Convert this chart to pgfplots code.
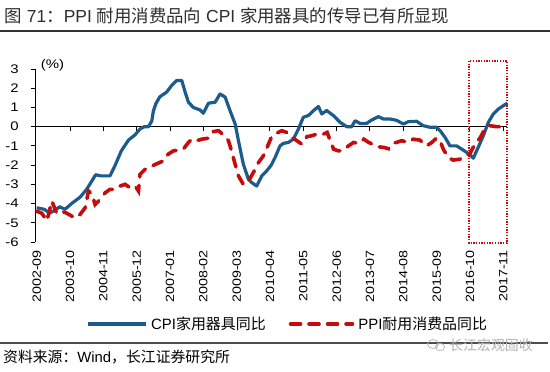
\documentclass[border=0pt]{standalone}
\usepackage{pgfplots}
\pgfplotsset{compat=1.18}
\usepackage{fontspec}
\setmainfont{Liberation Sans}
\newfontfamily\cjk{Noto Sans CJK SC}
\newfontfamily\tickfont[FakeStretch=1.2]{Liberation Sans}
\definecolor{cpiblue}{RGB}{28,92,138}
\definecolor{ppired}{RGB}{196,12,12}
\definecolor{titlegray}{RGB}{45,45,50}
\begin{document}
\begin{tikzpicture}
\useasboundingbox (0bp,0bp) rectangle (550bp,372bp);
% title
\node[anchor=base west, inner sep=0pt, text=titlegray, font=\fontsize{17.5}{17.5}\selectfont] at (4.5bp,349bp)
  {{\cjk 图} 71{\cjk ：}PPI {\cjk 耐用消费品向} CPI {\cjk 家用器具的传导已有所显现}};
\draw[line width=1.3bp, black!80] (0bp,341bp) -- (550bp,341bp);
% footer
\draw[line width=1.2bp, black!70] (0bp,29bp) -- (548bp,29bp);
\node[anchor=base west, inner sep=0pt, font=\fontsize{14.9}{14.9}\selectfont] at (3bp,10bp)
  {{\cjk 资料来源：}Wind{\cjk ，长江证券研究所}};
\node[anchor=center, inner sep=0pt, text=black!30, font=\cjk\fontsize{14}{14}\selectfont] at (491bp,27bp) {长江宏观固收};
\draw[black!30, line width=0.7bp] (433bp,28bp) ellipse (5.5bp and 4.5bp);
\draw[black!30, line width=0.7bp] (440bp,25bp) ellipse (4.5bp and 3.8bp);
\begin{axis}[
  at={(35.4bp,130bp)}, anchor=south west,
  scale only axis, width=472bp, height=173bp,
  xmin=-0.5, xmax=183.6, ymin=-6, ymax=3,
  clip=false,
  axis line style={draw=none},
  major tick length=0pt,
  xtick={0,13,26,39,52,65,78,91,104,117,130,143,156,169,182},
  xticklabels={2002-09,2003-10,2004-11,2005-12,2007-01,2008-02,2009-03,2010-04,2011-05,2012-06,2013-07,2014-08,2015-09,2016-10,2017-11},
  ytick={-6,-5,-4,-3,-2,-1,0,1,2,3},
  yticklabels={-6,-5,-4,-3,-2,-1,0,1,2,3},
  xticklabel style={rotate=90, anchor=east, inner xsep=8bp, inner ysep=0pt, font=\tickfont\fontsize{12}{12}\selectfont},
  yticklabel style={anchor=east, inner xsep=16.5bp, inner ysep=0pt, font=\tickfont\fontsize{12.5}{12.5}\selectfont},
  legend style={at={(0.532,-0.474)}, anchor=center, draw=none, fill=none,
    legend columns=2, inner sep=0pt, outer sep=0pt,
    font=\fontsize{15}{15}\selectfont,
    nodes={inner sep=0pt},
    /tikz/column 1/.style={column sep=4bp},
    /tikz/column 2/.style={column sep=23bp},
    /tikz/column 3/.style={column sep=4bp}},
]
% axis lines and ticks
\draw[black, line width=1bp] (axis cs:-0.5,-6) -- (axis cs:-0.5,3);
\pgfplotsinvokeforeach{-6,-5,-4,-3,-2,-1,0,1,2,3}{\draw[black, line width=1bp] (axis cs:-0.5,#1) -- ++(-4bp,0bp);}
\draw[black, line width=1bp] (axis cs:-0.5,0) -- (axis cs:183.6,0);
\pgfplotsinvokeforeach{13,26,39,52,65,78,91,104,117,130,143,156,169,182}{\draw[black, line width=1bp] (axis cs:#1,0) -- ++(0bp,-4bp);}

\addplot[cpiblue, line width=3.2bp, line join=round,
  legend image code/.code={\draw[cpiblue, line width=3.2bp] (0bp,0bp) -- (58bp,0bp);}]
  coordinates {
(0,-4.22) (3,-4.3) (5,-4.5) (7,-4.35) (9,-4.17) (11,-4.3) (14,-3.96) (17,-3.66)
(19.5,-3.26) (21.5,-2.83) (23,-2.5) (25,-2.56) (28.6,-2.56) (30.5,-2.04) (33,-1.26)
(35.8,-0.7) (38.4,-0.42) (40.3,-0.12) (42,0) (43.6,0) (44.9,0.3) (45.5,0.8) (46.5,1.2)
(48,1.55) (50.7,1.8) (52.7,2.15) (54.6,2.4) (56.6,2.4) (57.9,1.8) (59.2,1.27) (61.1,1.0)
(63.7,0.87) (65,0.7) (67,1.22) (69.6,1.27) (71.5,1.7) (73.5,1.54) (75.4,0.84) (77.4,0.14)
(78.7,-0.73) (80.6,-1.95) (82.6,-2.74) (83.9,-2.91) (85.8,-3.09) (87.8,-2.56) (89.7,-2.3)
(91.5,-2.0) (93,-1.6) (94.9,-1.0) (96.2,-0.87) (98.2,-0.82) (100.1,-0.65) (102.1,-0.12)
(104,0.49) (106,0.58) (108,0.84) (109.9,1.05) (111.2,0.66) (113.1,0.84) (115.7,0.58)
(118.3,0.23) (120.9,0) (122.9,0) (124.2,0.31) (126.1,0.17) (128.7,0.17) (130.7,0.35)
(133.3,0.52) (135.2,0.4) (137.8,0.4) (140.4,0.33) (143,0.14) (145,0.26) (148.2,0.28)
(150.8,0.05) (153.4,-0.03) (156,-0.03) (157.3,-0.2) (159.3,-0.56) (161.2,-1.0) (163.8,-1.0)
(165.8,-1.17) (168.4,-1.4) (170.3,-1.64) (172.3,-1.05) (174.2,-0.47) (176.2,0.23)
(178.1,0.66) (180.1,0.92) (182.7,1.15) (183.6,1.22)
};
\addlegendentry{CPI{\cjk 家用器具同比}}

\addplot[ppired, line width=3.6bp, line cap=round, dash pattern=on 10bp off 8.5bp,
  legend image code/.code={\draw[ppired, line width=3.6bp, line cap=round, dash pattern=on 10bp off 8.5bp] (0bp,0bp) -- (62bp,0bp);}]
  coordinates {
(0,-4.4) (2,-4.5) (4,-4.9) (5.9,-3.87) (7.8,-4.5) (9.8,-4.4) (11.7,-4.5) (15,-4.75)
(16.9,-4.57) (18.9,-4.22) (20.2,-3.35) (21.5,-3.5) (22.8,-4.05) (24.7,-3.79) (26.7,-3.44)
(28.6,-3.26) (30.6,-3.26) (32.5,-3.09) (34.5,-3.0) (36.4,-3.18) (38.4,-3.09) (39.7,-3.35)
(40.3,-2.48) (42.3,-2.22) (44.2,-2.1) (46.5,-1.95) (49.4,-1.78) (51.3,-1.43) (53.3,-1.26)
(55.3,-1.22) (57.2,-1.17) (59.2,-0.82) (60.5,-0.65) (62.4,-0.73) (64.4,-0.65) (67,-0.6)
(68.9,-0.26) (70.9,-0.21) (72.8,-0.42) (74.8,-0.73) (76,-1.26) (77.4,-1.95) (78.7,-2.56)
(80.6,-3.0) (82.6,-2.83) (84.5,-2.39) (86.5,-1.87) (88.4,-1.52) (90.4,-0.91) (91.7,-0.5)
(93.5,-0.35) (95.6,-0.21) (97.5,-0.3) (99.5,-0.56) (101.5,-0.73) (103.4,-0.91) (105.4,-0.52)
(107.4,-0.47) (109.3,-0.38) (111.3,-0.42) (113.3,-0.3) (114.5,-0.73) (115.8,-1.17)
(117.7,-1.26) (119.7,-1.22) (121.6,-1.0) (123.6,-0.82) (125.5,-0.87) (127.6,-0.65)
(129.5,-0.82) (131.5,-0.94) (133.4,-1.05) (135.4,-1.08) (137.3,-1.15) (139.5,-0.85)
(142.4,-0.73) (145,-0.82) (146.9,-0.65) (149.5,-0.7) (152.1,-1.0) (154.1,-0.82)
(155.9,-0.6) (157.3,-0.73) (158.6,-1.17) (160.5,-1.6) (162.5,-1.74) (165.1,-1.69)
(167,-1.52) (169,-1.4) (170.9,-0.91) (172.9,-0.6) (174.8,-0.12) (176.8,0.05) (179.4,0)
(183.3,0)
};
\addlegendentry{PPI{\cjk 耐用消费品同比}}

% highlight box
\draw[ppired, line width=1.3bp, dash pattern=on 1.3bp off 1.4bp] (axis cs:168.6,3.42) rectangle (axis cs:183.4,-6.05);
% unit label
\node[anchor=center, inner sep=0pt, font=\tickfont\fontsize{12.5}{12.5}\selectfont] at (axis cs:6.2,3.2) {(\%)};
\end{axis}
\end{tikzpicture}
\end{document}
